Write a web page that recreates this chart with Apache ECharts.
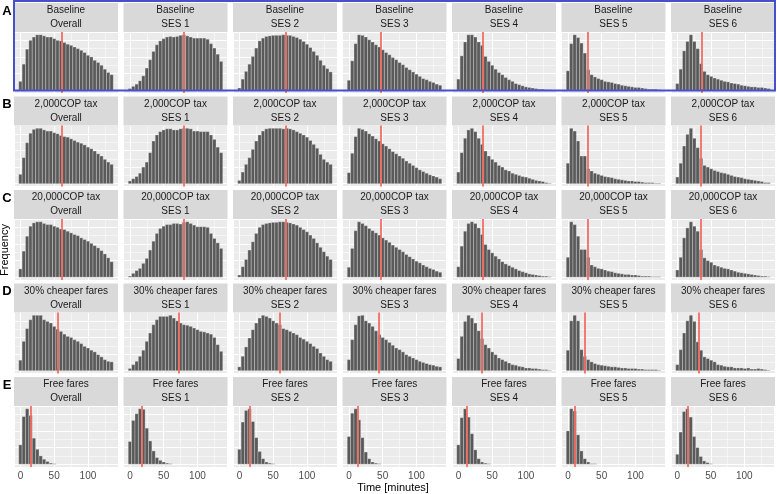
<!DOCTYPE html>
<html>
<head>
<meta charset="utf-8">
<script src="https://cdn.jsdelivr.net/npm/echarts@6/dist/echarts.min.js"></script>
<style>
html, body { margin: 0; padding: 0; background: #fff; }
#main { width: 777px; height: 494px; }
</style>
</head>
<body>
<div id="main"></div>
<script>
// bin centres (minutes), 5 minute bins
var bins = [0,5,10,15,20,25,30,35,40,45,50,55,60,65,70,75,80,85,90,95,100,105,110,115,120,125,130,135];
var binWidth = 5;

var scenarios = ['Baseline', '2,000COP tax', '20,000COP tax', '30% cheaper fares', 'Free fares'];
var groups = ['Overall', 'SES 1', 'SES 2', 'SES 3', 'SES 4', 'SES 5', 'SES 6'];
var rowLetters = ['A', 'B', 'C', 'D', 'E'];

// A - baseline (relative counts, free y scale per panel)
var a_overall = [16,47,74,90,96,100,100,98,96,96,93,90,89,86,83,81,78,75,72,68,63,60,54,50,45,38,32,28];
var a_ses1 = [3,7,11,17,26,40,55,70,82,89,93,96,97,96,97,99,100,98,96,94,94,94,94,92,84,76,65,52];
var a_ses2 = [4,20,34,47,61,76,89,94,97,98,99,99,99,100,99,99,97,95,92,88,83,77,70,63,54,45,39,33];
var a_ses3 = [18,53,84,100,99,96,91,87,82,78,73,68,64,59,55,50,46,41,37,33,29,25,21,19,16,14,11,9];
var a_ses4 = [20,62,87,100,100,96,87,81,61,52,45,38,32,28,23,19,16,12,10,8,6,5,4,3,2,2,1,1];
var a_ses5 = [35,84,100,95,85,67,37,28,24,21,19,16,15,14,12,11,9,8,7,6,5,5,4,3,2,2,2,1];
var a_ses6 = [12,38,71,88,100,88,75,48,34,28,25,22,20,18,16,15,13,12,11,9,8,7,6,6,5,5,4,3];
var a_means = [61.6, 80, 69, 47.5, 36.4, 29.3, 35.4];

// B - 2,000COP tax
var b_overall = [17,47,74,91,98,100,100,97,95,95,92,90,87,85,84,81,78,75,73,70,66,63,59,54,50,44,39,35];
var b_ses1 = [5,9,13,19,30,39,56,77,88,94,97,99,99,97,97,99,100,100,99,95,95,94,94,94,88,80,66,56];
var b_ses2 = [6,21,35,47,62,77,88,95,99,100,100,100,100,99,100,99,97,94,91,88,84,78,71,64,53,44,39,35];
var b_ses3 = [20,55,85,100,98,95,90,86,81,77,72,68,63,58,54,50,46,41,37,33,29,25,22,19,16,14,12,9];
var b_ses4 = [21,56,82,97,100,94,82,71,59,50,44,39,33,30,25,23,19,17,15,13,12,10,8,6,5,4,2,1];
var b_ses5 = [37,100,95,77,50,50,27,23,19,17,15,13,12,11,9,8,7,6,5,5,4,4,3,2,2,2,1,1];
var b_ses6 = [12,37,68,89,100,82,65,46,33,30,27,24,22,20,19,17,15,13,12,11,9,8,7,6,5,4,2,2];
var b_means = [61.6, 80, 68, 47.5, 36.4, 29.2, 35];

// C - 20,000COP tax
var c_overall = [15,47,74,92,98,100,100,97,95,95,92,90,87,86,83,80,77,75,71,68,65,61,57,53,48,42,35,28];
var c_ses1 = [2,7,12,16,25,34,49,65,79,88,92,95,95,97,97,96,99,100,97,94,91,91,91,90,79,70,62,52];
var c_ses2 = [4,19,32,49,64,79,90,95,97,98,99,99,100,100,99,98,96,94,90,86,82,76,70,62,54,46,38,32];
var c_ses3 = [18,52,84,100,97,93,88,84,80,76,71,67,63,58,54,50,46,41,37,33,29,26,22,19,16,14,11,9];
var c_ses4 = [19,56,83,97,100,97,89,77,59,50,44,38,33,28,24,21,18,15,12,10,8,6,5,4,3,2,2,1];
var c_ses5 = [36,100,95,74,50,50,36,22,19,16,15,13,11,10,8,7,6,5,5,4,4,3,2,2,2,1,1,1];
var c_ses6 = [13,36,71,89,100,92,83,50,35,30,27,22,20,18,16,15,13,11,9,8,7,6,5,4,3,2,2,1];
var c_means = [61.6, 80, 69, 47.5, 36.4, 29.2, 35];

// D - 30% cheaper fares
var d_overall = [19,53,76,92,100,100,100,92,89,86,80,75,71,66,62,60,56,53,49,44,41,37,34,29,25,20,17,16];
var d_ses1 = [4,11,17,26,37,53,68,83,92,98,98,98,100,95,90,86,83,82,80,77,74,71,70,68,66,60,47,35];
var d_ses2 = [7,26,43,59,74,86,95,100,98,95,90,86,83,76,74,71,68,65,60,57,53,49,44,40,32,26,20,17];
var d_ses3 = [20,56,83,99,100,90,86,80,72,65,60,56,51,46,41,38,34,29,26,23,20,17,15,13,11,10,8,7];
var d_ses4 = [22,62,89,100,95,86,72,58,47,41,34,29,23,20,17,14,11,10,8,7,5,5,4,4,3,2,2,1];
var d_ses5 = [37,90,100,90,38,26,20,16,13,11,10,9,8,7,7,6,5,5,4,4,4,3,3,2,2,2,2,1];
var d_ses6 = [11,38,68,90,100,89,52,37,25,22,19,16,11,10,8,7,7,5,5,5,4,5,3,3,4,3,2,1];
var d_means = [54.6, 72.7, 60.1, 44.5, 33.9, 24.8, 31.5];

// E - free fares
var e_overall = [35,86,100,88,47,27,15,9,5,2,1];
var e_ses1 = [41,79,91,100,99,65,42,24,12,7,4,2,1];
var e_ses2 = [27,76,97,100,77,48,23,10,4,2,1];
var e_ses3 = [50,92,100,80,48,22,10,4,2,1];
var e_ses4 = [35,84,100,85,55,26,10,4,2,1];
var e_ses5 = [60,100,96,53,24,10,4,1,1];
var e_ses6 = [18,58,95,100,85,50,30,14,6,3,1];
var e_means = [15.4, 17.5, 15.4, 13.5, 13, 10.5, 15.2];

var rows = [
    [a_overall, a_ses1, a_ses2, a_ses3, a_ses4, a_ses5, a_ses6],
    [b_overall, b_ses1, b_ses2, b_ses3, b_ses4, b_ses5, b_ses6],
    [c_overall, c_ses1, c_ses2, c_ses3, c_ses4, c_ses5, c_ses6],
    [d_overall, d_ses1, d_ses2, d_ses3, d_ses4, d_ses5, d_ses6],
    [e_overall, e_ses1, e_ses2, e_ses3, e_ses4, e_ses5, e_ses6]
];
var means = [a_means, b_means, c_means, d_means, e_means];

// panel layout (px)
var left0 = 14, colPitch = 109.5, panelW = 104;
var top0 = 3, rowPitch = 93.5, stripH = 29, panelH = 61;
var font = '"Liberation Sans", Arial, sans-serif';

var xLo = bins[0] - binWidth / 2;
var xHi = bins[bins.length - 1] + binWidth / 2;
var xPad = (xHi - xLo) * 0.05;

function renderBar(params, api) {
    var x = api.value(0), y = api.value(1);
    var p0 = api.coord([x - binWidth / 2, y]);
    var p1 = api.coord([x + binWidth / 2, 0]);
    return {
        type: 'rect',
        shape: { x: p0[0], y: p0[1], width: p1[0] - p0[0], height: p1[1] - p0[1] },
        style: { fill: '#595959', stroke: 'rgba(255,255,255,0.55)', lineWidth: 0.5 }
    };
}

var grid = [], xAxis = [], yAxis = [], series = [], graphic = [];

for (var i = 0; i < rows.length; i++) {
    var stripTop = top0 + i * rowPitch;
    graphic.push({
        type: 'text', z: 10,
        style: { text: rowLetters[i], x: 7, y: stripTop + 8, fill: '#000', font: 'bold 13px ' + font, align: 'center', verticalAlign: 'middle' }
    });
    for (var j = 0; j < groups.length; j++) {
        var idx = i * groups.length + j;
        var gx = left0 + j * colPitch;
        var vals = rows[i][j];
        var ymax = Math.max.apply(null, vals);

        grid.push({
            left: gx, top: stripTop + stripH, width: panelW, height: panelH,
            show: true, backgroundColor: '#EBEBEB', borderWidth: 0
        });
        xAxis.push({
            type: 'value', gridIndex: idx,
            min: xLo - xPad, max: xHi + xPad, splitNumber: 3,
            axisLine: { show: false },
            axisTick: { show: false },
            axisLabel: {
                show: i === rows.length - 1, color: '#4D4D4D', fontSize: 10, fontFamily: font, margin: 4,
                formatter: function (v) { return v % 50 === 0 ? String(v) : ''; }
            },
            splitLine: { show: true, lineStyle: { color: '#FFFFFF', width: 1 } },
            minorTick: { show: false, splitNumber: 2 },
            minorSplitLine: { show: true, lineStyle: { color: '#FFFFFF', width: 0.5 } }
        });
        yAxis.push({
            type: 'value', gridIndex: idx,
            min: -ymax * 0.05, max: ymax * 1.05, splitNumber: 3,
            axisLine: { show: false },
            axisTick: { show: false },
            axisLabel: { show: false },
            splitLine: { show: true, lineStyle: { color: '#FFFFFF', width: 1 } },
            minorTick: { show: false, splitNumber: 2 },
            minorSplitLine: { show: true, lineStyle: { color: '#FFFFFF', width: 0.5 } }
        });
        series.push({
            type: 'custom',
            xAxisIndex: idx, yAxisIndex: idx,
            data: vals.map(function (v, k) { return [bins[k], v]; }),
            encode: { x: 0, y: 1 },
            renderItem: renderBar,
            silent: true,
            markLine: {
                silent: true, symbol: ['none', 'none'], animation: false,
                label: { show: false },
                lineStyle: { color: '#F46D66', width: 1.8, type: 'solid', opacity: 1 },
                data: [{ xAxis: means[i][j] }]
            }
        });

        // facet strip
        graphic.push({
            type: 'rect', z: 5,
            shape: { x: gx, y: stripTop, width: panelW, height: stripH },
            style: { fill: '#D9D9D9' }
        });
        graphic.push({
            type: 'text', z: 6,
            style: { text: scenarios[i], x: gx + panelW / 2, y: stripTop + 7.5, fill: '#1A1A1A', font: '10px ' + font, align: 'center', verticalAlign: 'middle' }
        });
        graphic.push({
            type: 'text', z: 6,
            style: { text: groups[j], x: gx + panelW / 2, y: stripTop + 21.5, fill: '#1A1A1A', font: '10px ' + font, align: 'center', verticalAlign: 'middle' }
        });
    }
}

// axis titles
graphic.push({
    type: 'text', z: 6,
    style: { text: 'Time [minutes]', x: 393, y: 488, fill: '#000', font: '11px ' + font, align: 'center', verticalAlign: 'middle' }
});
graphic.push({
    type: 'text', z: 6, x: 5, y: 250, rotation: Math.PI / 2,
    style: { text: 'Frequency', x: 0, y: 0, fill: '#000', font: '11px ' + font, align: 'center', verticalAlign: 'middle' }
});
// highlight box round row A
graphic.push({
    type: 'rect', z: 100,
    shape: { x: 14, y: 1, width: 761, height: 89.5 },
    style: { fill: 'none', stroke: '#4650C8', lineWidth: 2 }
});

var myChart = echarts.init(document.getElementById('main'));
var option = {
    animation: false,
    backgroundColor: '#FFFFFF',
    grid: grid,
    xAxis: xAxis,
    yAxis: yAxis,
    series: series,
    graphic: graphic
};
myChart.setOption(option);
</script>
</body>
</html>
